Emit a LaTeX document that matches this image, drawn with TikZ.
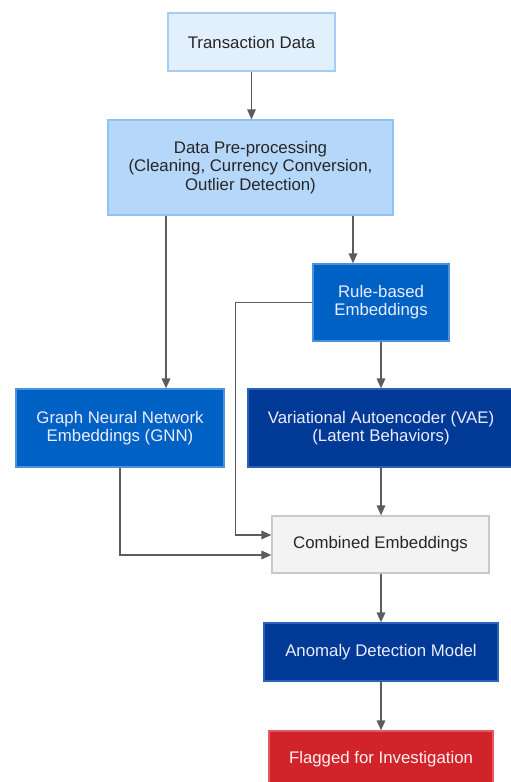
\documentclass[tikz,border=0pt]{standalone}
\usepackage{fontspec}
\setmainfont{Liberation Sans}
\usepackage{tikz}
\usetikzlibrary{arrows.meta,positioning,calc}

\definecolor{paleblue}{HTML}{E2EFFC}
\definecolor{paleedge}{HTML}{A6CEF5}
\definecolor{lightblue}{HTML}{B5D7FA}
\definecolor{lightedge}{HTML}{8EC4F4}
\definecolor{midblue}{HTML}{0061C4}
\definecolor{midedge}{HTML}{4C92DC}
\definecolor{navy}{HTML}{003A96}
\definecolor{navyedge}{HTML}{2A62B8}
\definecolor{greybox}{HTML}{F3F3F3}
\definecolor{greyedge}{HTML}{C9C9C9}
\definecolor{alarm}{HTML}{D0232A}
\definecolor{alarmedge}{HTML}{E35A5F}
\definecolor{wire}{HTML}{5C5C5C}

\tikzset{
  box/.style={rectangle, draw, line width=1.2pt, align=center, inner sep=0pt,
    font=\fontsize{16.8}{18.3}\selectfont},
  lightbox/.style={box, fill=paleblue, draw=paleedge, text=black!85},
  prebox/.style={box, fill=lightblue, draw=lightedge, text=black!85},
  bluebox/.style={box, fill=midblue, draw=midedge, text=white!93!blue},
  navybox/.style={box, fill=navy, draw=navyedge, text=white!93!blue},
  greyfill/.style={box, fill=greybox, draw=greyedge, text=black!85},
  redbox/.style={box, fill=alarm, draw=alarmedge, text=white!95!red},
  link/.style={draw=wire, line width=1.6pt, -{Triangle[length=10pt,width=8.5pt]}}
}

\begin{document}
\begin{tikzpicture}[x=1pt,y=-1pt]
\useasboundingbox (0,0) rectangle (511,782);

% boxes
\node[lightbox, minimum width=167pt, minimum height=58pt] (trans) at (251.5,42) {Transaction Data};
\node[prebox, minimum width=285pt, minimum height=95pt] (pre) at (250.5,167.5)
  {Data Pre-processing\\(Cleaning, Currency Conversion,\\Outlier Detection)};
\node[bluebox, minimum width=136pt, minimum height=77pt] (rule) at (381,302.5) {Rule-based\\Embeddings};
\node[bluebox, minimum width=208pt, minimum height=78pt] (gnn) at (120,428)
  {Graph Neural Network\\Embeddings (GNN)};
\node[navybox, minimum width=266pt, minimum height=78pt] (vae) at (381,428)
  {Variational Autoencoder (VAE)\\(Latent Behaviors)};
\node[greyfill, minimum width=217pt, minimum height=57pt] (comb) at (380.5,544.5) {Combined Embeddings};
\node[navybox, minimum width=234pt, minimum height=58pt] (anom) at (381,652) {Anomaly Detection Model};
\node[redbox, minimum width=224pt, minimum height=56pt] (flag) at (381,759) {Flagged for Investigation};

% connectors
\coordinate (toGnn) at ([xshift=-84.5pt]pre.south);
\coordinate (toRule) at ([xshift=102.5pt]pre.south);
\draw[link] (trans.south) -- (trans.south |- pre.north);
\draw[link] (toGnn) -- (toGnn |- gnn.north);
\draw[link] (toRule) -- (toRule |- rule.north);
\draw[link] (rule.south) -- (rule.south |- vae.north);
\draw[link] (rule.west) -- ++(-77,0) |- ([yshift=9.5pt]comb.west);
\draw[link] (gnn.south) |- ([yshift=-10.5pt]comb.west);
\draw[link] (anom.north |- vae.south) -- (anom.north |- comb.north);
\draw[link] (anom.north |- comb.south) -- (anom.north);
\draw[link] (anom.south) -- (flag.north);
\end{tikzpicture}
\end{document}
